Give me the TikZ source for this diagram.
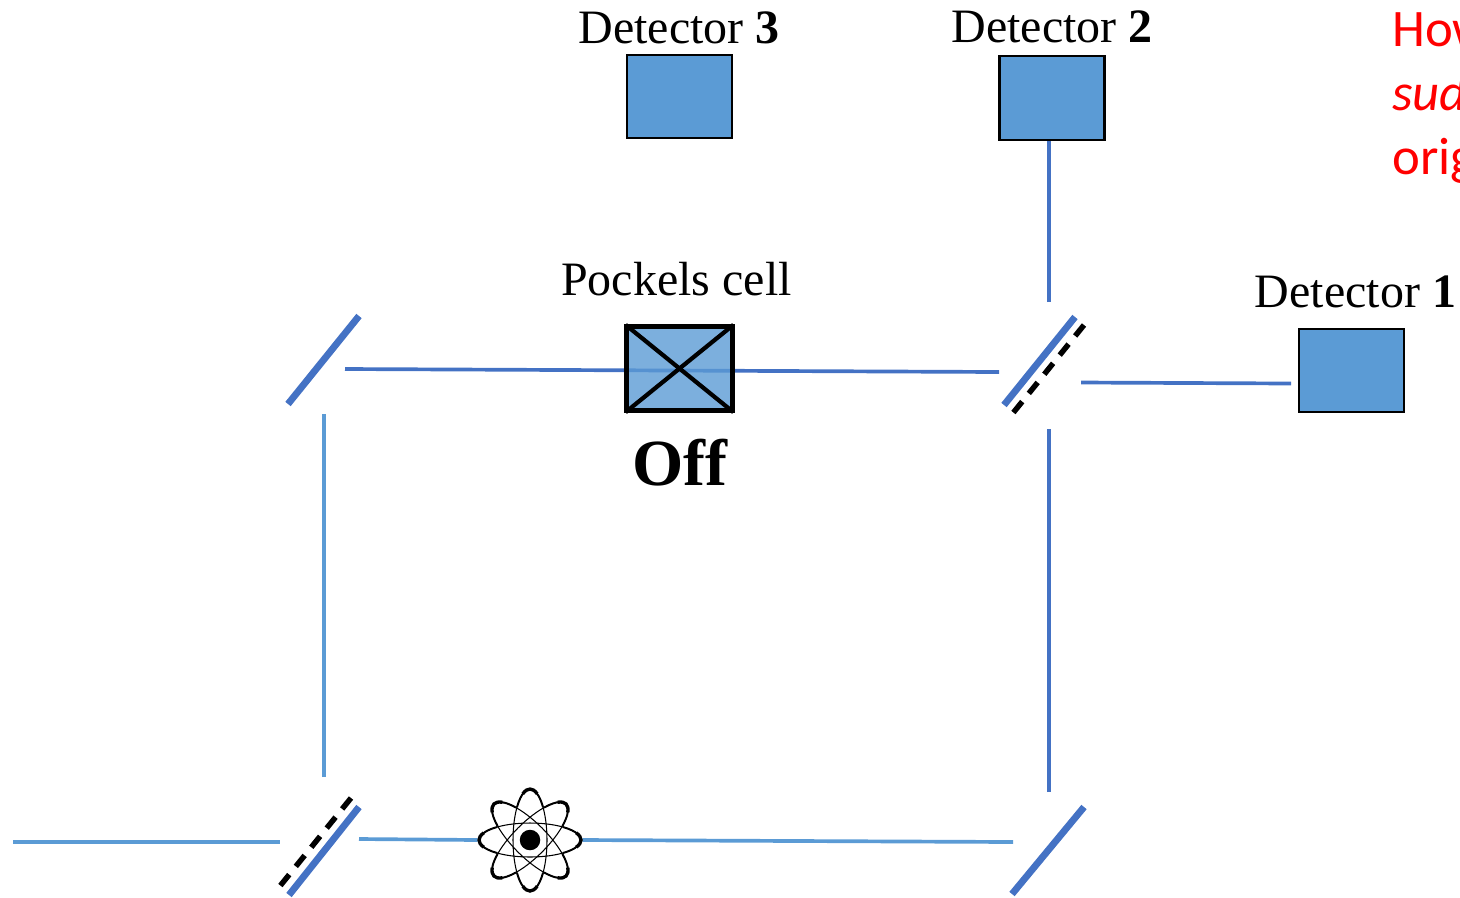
\documentclass[tikz,border=0pt]{standalone}
\usepackage{fontspec}
\setmainfont{Liberation Serif}
\newfontfamily\notefont{Carlito}
\usetikzlibrary{shapes,shapes.misc}
\definecolor{beamdark}{HTML}{4472C4}
\definecolor{beamlight}{HTML}{5B9BD5}
\definecolor{cellblue}{HTML}{5B9BD5}
\tikzset{
  beam/.style={color=beamlight,line width=2.1pt},
  beamd/.style={color=beamdark,line width=2.1pt},
  mirror/.style={color=beamdark,line width=3.9pt},
  coating/.style={color=black,line width=3.1pt,dash pattern=on 8pt off 6pt},
  detector/.style={draw=black,fill=cellblue,line width=1.2pt,minimum width=2.1cm,minimum height=1.67cm,inner sep=0pt},
  lbl/.style={anchor=base,inner sep=0pt,font=\fontsize{27.3}{32}\selectfont},
  rednote/.style={anchor=base west,inner sep=0pt,color=red,font=\notefont\fontsize{30}{36}\selectfont},
  orbit/.style={color=black,line width=.6pt},
  orbittip/.style={color=black,line width=1.1pt},
  orbitend/.style={color=black,line width=1.9pt}
}
\begin{document}
\begin{tikzpicture}[x=.02cm,y=-.02cm]
   \useasboundingbox (0,0) rectangle (1460,897);
   % free ends of the beams
   \coordinate (srcL) at (13,842);
   \coordinate (srcR) at (280,842);
   \coordinate (bsaR) at (359,839);
   \coordinate (mbL) at (1013,842);
   \coordinate (bsaT) at (324,777);
   \coordinate (maB) at (324,414);
   \coordinate (maR) at (345,369);
   \coordinate (bsbL) at (999,372);
   \coordinate (mbT) at (1049,792);
   \coordinate (bsbB) at (1049,429);
   \coordinate (bsbT) at (1049,302);
   \coordinate (bsbR) at (1081,382.5);
   \coordinate (det1L) at (1291,383.5);
   % boxes
   \node[detector] (det3) at (679.5,96.5) {};
   \node[detector] (det2) at (1052,98) {};
   \node[detector] (det1) at (1351.5,370.5) {};
   \node[lbl] (det3lbl) at (679,43) {Detector \textbf{3}};
   \node[lbl] (det2lbl) at (1052,42) {Detector \textbf{2}};
   \node[lbl] (det1lbl) at (1355.5,307) {Detector \textbf{1}};
   \node[lbl] (celllbl) at (676.5,295) {Pockels cell};
   \node[anchor=base,inner sep=0pt,font=\bfseries\fontsize{37.5}{44}\selectfont] (offlbl) at (680,485) {Off};
   \node[rednote] (note1) at (1392,46) {How};
   \node[rednote] (note2) at (1392,110) {\itshape sud};
   \node[rednote] (note3) at (1392,174) {orig};
   % atom
   \node[circle,minimum size=2.08cm,inner sep=0pt] (atom) at (530,840) {};
   \draw[beam] (srcL) -- (srcR);
   \draw[beam] (bsaR) -- (atom.west);
   \draw[beam] (atom.east) -- (mbL);
   \draw[beam] (bsaT) -- (maB);
   \draw[beamd] (mbT) -- (bsbB);
   \draw[beamd] (maR) -- (bsbL);
   \draw[beamd] (bsbR) -- (det1L);
   \draw[beamd] (bsbT) -- (bsbT |- det2.south);
   \foreach \ang in {0,45,90,135} {
     \begin{scope}[shift={(atom)},rotate=\ang]
       \draw[orbit] (0,0) ellipse [x radius=51,y radius=17];
       \foreach \mid in {0,180} {
         \draw[orbittip] (\mid-50:51 and 17) arc [start angle=\mid-50,end angle=\mid+50,x radius=51,y radius=17];
         \draw[orbitend] (\mid-25:51 and 17) arc [start angle=\mid-25,end angle=\mid+25,x radius=51,y radius=17];
       }
     \end{scope}
   }
   \node[fill=black,circle,minimum size=.41cm,inner sep=0pt] (nucleus) at (atom) {};
   % mirrors
   \draw[mirror] (288,404) -- (359,316);
   \draw[mirror] (1004,405) -- (1075,317);
   \draw[mirror] (289,895) -- (359,807);
   \draw[mirror] (1012,894) -- (1084,807);
   \draw[coating] (1084,325) -- (1013,413);
   \draw[coating] (351,798) -- (280,886);
   % cell
   \node[draw=black,fill=cellblue,fill opacity=.8,line width=2.9pt,minimum width=2.11cm,minimum height=1.69cm,inner sep=0pt] (cell) at (679.5,368.5) {};
   \draw[color=black,line width=2.4pt,shorten >=1pt,shorten <=1pt] (cell.north west) -- (cell.south east);
   \draw[color=black,line width=2.4pt,shorten >=1pt,shorten <=1pt] (cell.north east) -- (cell.south west);
\end{tikzpicture}
\end{document}
